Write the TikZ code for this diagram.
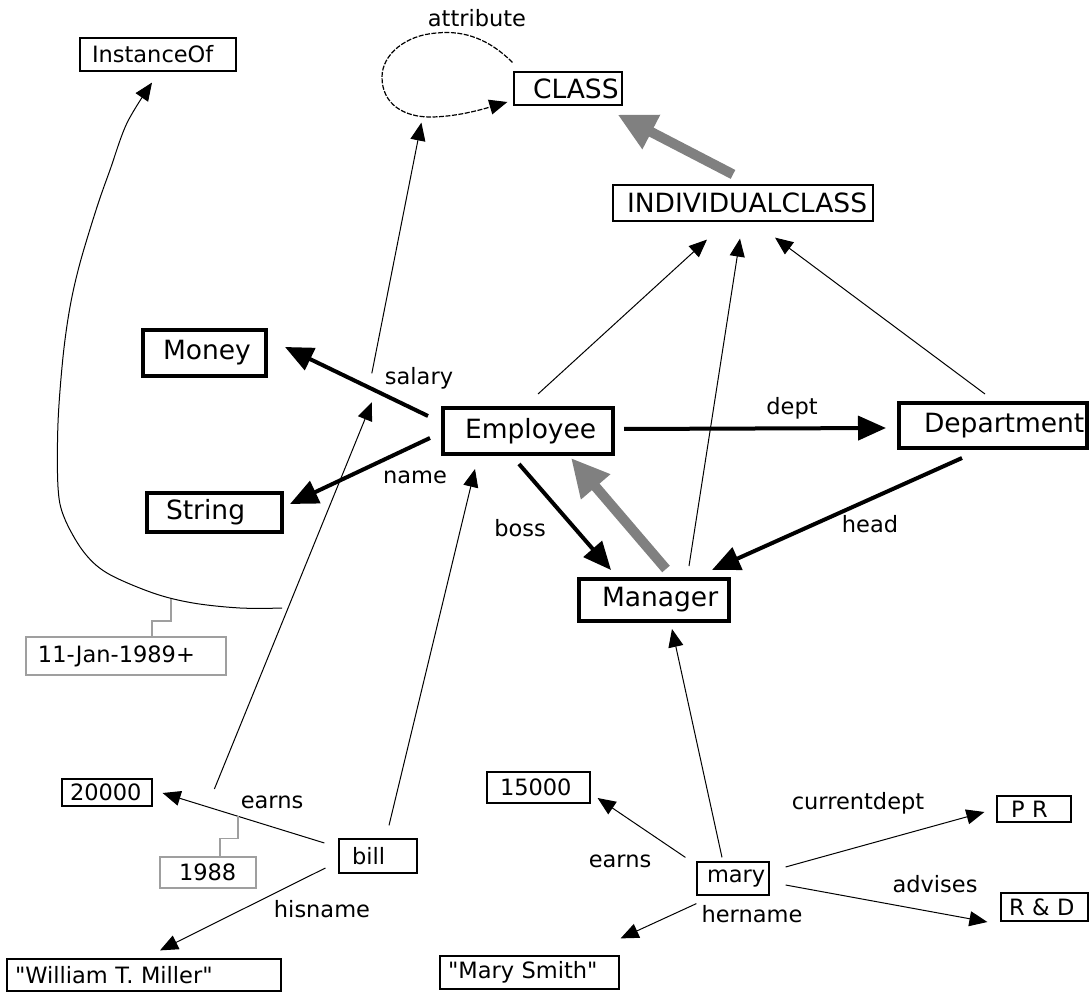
\documentclass[tikz,border=0pt]{standalone}
\usepackage{fontspec}
\setmainfont{DejaVu Sans}[Ligatures=TeXOff]
\usetikzlibrary{arrows.meta,calc}
\begin{document}
\begin{tikzpicture}[x=1pt,y=-1pt,
  big/.style={font=\fontsize{26.5}{30}\selectfont},
  small/.style={font=\fontsize{22.5}{26}\selectfont},
  obj/.style 2 args={inner xsep=0pt, inner ysep=0pt, text width=#1, minimum height=#2, align=left, anchor=center},
  thinbox/.style={draw, line width=1.2pt},
  thickbox/.style={draw, line width=4pt},
  graybox/.style={draw=gray!75, line width=1.5pt},
  lbl/.style={small, inner sep=0pt},
  rel/.style={line width=1pt, -{Triangle[length=18pt,width=15pt]}},
  attr/.style={line width=4pt, -{Triangle[length=28pt,width=24pt]}},
  isa/.style={line width=10pt, color=gray, -{Triangle[length=38pt,width=36pt]}},
  selfloop/.style={line width=1.2pt, dash pattern=on 5pt off 1.5pt, -{Triangle[length=18pt,width=15pt]}},
  note/.style={line width=1.5pt, draw=gray!75}
]
\useasboundingbox (0,0) rectangle (1090,992);

% ---------- class level ----------
\node[thinbox,small,obj={156}{33}] (inst) at (158,54.5) {\hspace*{12pt}InstanceOf};
\node[thinbox,big,obj={108}{33}] (cls) at (568,88.5) {\hspace*{19pt}CLASS};
\node[thinbox,big,obj={260}{36}] (ind) at (743,203) {\hspace*{14pt}INDIVIDUALCLASS};
\node[thickbox,big,obj={123}{46}] (money) at (204.5,353) {\hspace*{20pt}Money};
\node[thickbox,big,obj={135}{39}] (string) at (214.5,512.5) {\hspace*{19pt}String};
\node[thickbox,big,obj={170}{46}] (emp) at (528,431) {\hspace*{22pt}Employee};
\node[thickbox,big,obj={188}{45}] (dept) at (993,425.5) {\hspace*{25pt}Department};
\node[thickbox,big,obj={150}{42}] (mgr) at (654,600) {\hspace*{23pt}Manager};

% ---------- objects ----------
\node[graybox,small,obj={200}{38}] (jan) at (126,656) {\hspace*{12pt}11-Jan-1989+};
\node[thinbox,small,obj={90}{27}] (n20000) at (107,792.5) {\hspace*{8pt}20000};
\node[graybox,small,obj={96}{31}] (n1988) at (208,872.5) {\hspace*{19pt}1988};
\node[thinbox,small,obj={78}{34}] (bill) at (378,856) {\hspace*{13pt}bill};
\node[thinbox,small,obj={274}{32}] (will) at (144,975) {\hspace*{8pt}"William T. Miller"};
\node[thinbox,small,obj={103}{31}] (n15000) at (538.5,787.5) {\hspace*{13pt}15000};
\node[thinbox,small,obj={72}{33}] (mary) at (733,878.5) {\hspace*{10pt}mary};
\node[thinbox,small,obj={74}{26}] (pr) at (1034,809) {\hspace*{14pt}P R};
\node[thinbox,small,obj={87}{28}] (rd) at (1044.5,907) {\hspace*{8pt}R \& D};
\node[thinbox,small,obj={179}{33}] (msmith) at (529.5,972.5) {\hspace*{8pt}"Mary Smith"};

% ---------- edge labels ----------
\node[lbl] (lattr) at (477,18) {attribute};
\node[lbl] (lsal) at (419,378) {salary};
\node[lbl] (lname) at (415,477) {name};
\node[lbl] (ldept) at (792,408) {dept};
\node[lbl] (lboss) at (520,528) {boss};
\node[lbl] (lhead) at (870,524) {head};
\node[lbl] (learnb) at (272,802) {earns};
\node[lbl] (lhis) at (322,909) {hisname};
\node[lbl] (learnm) at (620,861) {earns};
\node[lbl] (lcur) at (858,803) {currentdept};
\node[lbl] (ladv) at (935,884) {advises};
\node[lbl] (lher) at (752,914) {hername};

% ---------- attribute self loop on CLASS ----------
\draw[selfloop] ([shift={(-1,-9)}]cls.north west)
  .. controls (490,40) and (465,30) .. (437,33)
  .. controls (405,35) and (382,55) .. (382,77)
  .. controls (382,105) and (405,117) .. (430,117)
  .. controls (455,117) and (480,110) .. ([shift={(-6,13.5)}]cls.west);

% ---------- specialisation (gray) ----------
\draw[isa] ([shift={(-10,-10)}]ind.north) -- ([shift={(-5,9)}]cls.south east);
\draw[isa] ([shift={(12,-8)}]mgr.north) -- ([shift={(43,2)}]emp.south);

% ---------- instance-of INDIVIDUALCLASS ----------
\draw[rel] ([shift={(10,-12)}]emp.north) -- ([shift={(-36,18)}]ind.south);
\draw[rel] ([shift={(35,-11)}]mgr.north) -- ([shift={(-3,17)}]ind.south);
\draw[rel] ([shift={(-8,-7)}]dept.north) -- ([shift={(32,16)}]ind.south);

% ---------- attributes of the classes ----------
\draw[attr] ([shift={(-13,-15)}]emp.west) -- coordinate[pos=0.4] (salm) ([shift={(17,-6)}]money.east);
\draw[attr] ([shift={(-11,7)}]emp.west) -- ([shift={(6,-8.5)}]string.east);
\draw[attr] ([shift={(9,-2)}]emp.east) -- ([shift={(-11,2.5)}]dept.west);
\draw[attr] ([shift={(-9,8)}]emp.south) -- ([shift={(-43,-7)}]mgr.north);
\draw[attr] ([shift={(-31,8)}]dept.south) -- ([shift={(58,-7)}]mgr.north);

% salary is an attribute
\draw[rel] ([shift={(1,-15)}]salm) -- ([shift={(-92,17)}]cls.south west);

% ---------- bill ----------
\draw[rel] ([shift={(-14,-13)}]bill.west) -- coordinate[pos=0.534] (e88) coordinate[pos=0.68] (e20k) ([shift={(10,0.5)}]n20000.east);
\draw[rel] ([shift={(-13,12)}]bill.west) -- ([shift={(16,-8)}]will.north);
\draw[rel] ([shift={(11,-13)}]bill.north) -- ([shift={(-53,13)}]emp.south);
\draw[rel] ([shift={(0,-20)}]e20k) -- coordinate[pos=0.468] (instfoot) ([shift={(1,14)}]salm);
\draw[note] (e88) -- ++(0,22) -| ([shift={(12,0)}]n1988.north);

% earns-link is an instance of salary, valid from 11-Jan-1989
\draw[rel] plot[smooth, tension=0.55] coordinates {
  ([shift={(-6,0)}]instfoot) (240,608) (193,603) (153,593) (107,573) (83,551)
  (64,517) (58,487) (58,423) (63,357) (70,307) (80,263) (97,207)
  (110,170) (127,123) ([shift={(-6,11)}]inst.south)};
\coordinate (janfoot) at (171,599);
\draw[note] (janfoot) -- ++(0,22) -| ([shift={(26,0)}]jan.north);

% ---------- mary ----------
\draw[rel] ([shift={(-11,-4)}]mary.north) -- ([shift={(18,6)}]mgr.south);
\draw[rel] ([shift={(-11,-4)}]mary.north west) -- ([shift={(7,10.5)}]n15000.east);
\draw[rel] ([shift={(0,8)}]mary.south west) -- ([shift={(1,-17)}]msmith.north east);
\draw[rel] ([shift={(16,-11.5)}]mary.east) -- ([shift={(-12,3)}]pr.west);
\draw[rel] ([shift={(16,6.5)}]mary.east) -- ([shift={(-13,15)}]rd.west);
\end{tikzpicture}
\end{document}
